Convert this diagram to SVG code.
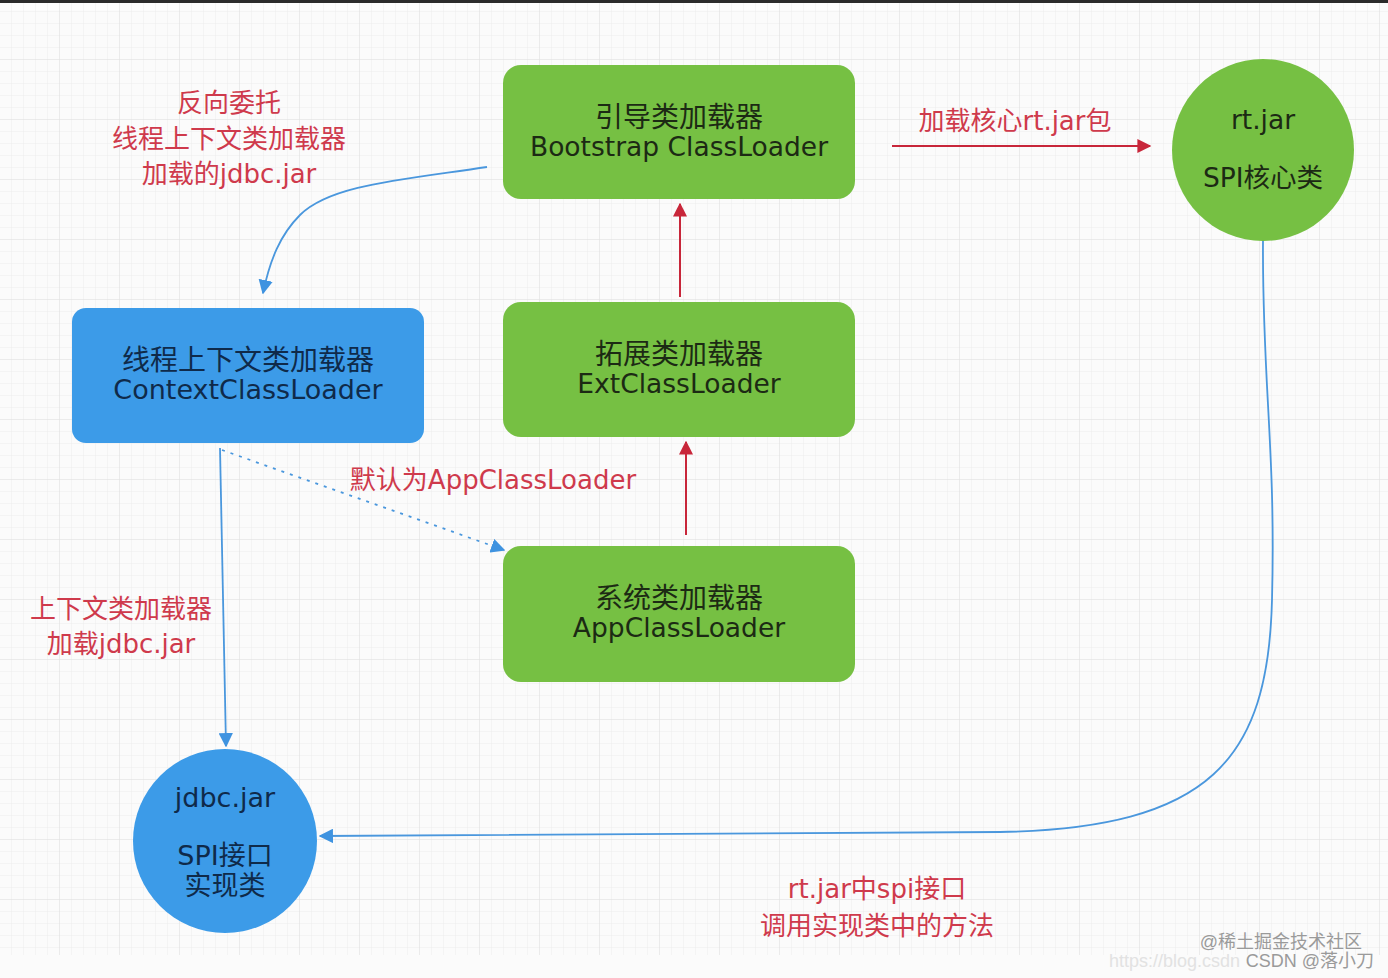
<svg xmlns="http://www.w3.org/2000/svg" width="1388" height="978" viewBox="0 0 1388 978">
<defs>
<pattern id="minor" width="12" height="12" patternUnits="userSpaceOnUse">
<path d="M12 0V12M0 12H12" fill="none" stroke="#ececec" stroke-width="1"/>
</pattern>
<pattern id="major" width="60" height="60" patternUnits="userSpaceOnUse">
<rect width="60" height="60" fill="url(#minor)"/>
<path d="M60 0V60M0 60H60" fill="none" stroke="#e2e2e2" stroke-width="1"/>
</pattern>
<marker id="red" viewBox="0 0 10 10" refX="9" refY="5" markerWidth="7" markerHeight="7" orient="auto" markerUnits="strokeWidth">
<path d="M0 0L10 5L0 10z" fill="#c8263a"/>
</marker>
<marker id="blue" viewBox="0 0 10 10" refX="9" refY="5" markerWidth="8" markerHeight="8" orient="auto" markerUnits="strokeWidth">
<path d="M0 0L10 5L0 10z" fill="#3f93e0"/>
</marker>
</defs>
<style>
.g{fill:#76c043}
.b{fill:#3c9be8}
.t{font-family:"DejaVu Sans","Noto Sans CJK SC",sans-serif;font-size:26.5px;fill:#1c2a14;text-anchor:middle}
.tb{font-family:"DejaVu Sans","Noto Sans CJK SC",sans-serif;font-size:27px;fill:#0f2a4a;text-anchor:middle}
.c{font-size:28px}
.r{font-family:"DejaVu Sans","Noto Sans CJK SC",sans-serif;font-size:26px;fill:#cf3a4c;text-anchor:middle}
.w{font-family:"Liberation Sans","Noto Sans CJK SC",sans-serif;font-size:18px;fill:#9a9a9a;text-anchor:end}
.rl{stroke:#c8263a;stroke-width:2;fill:none}
.bl{stroke:#4a97dd;stroke-width:1.8;fill:none}
</style>
<rect width="1388" height="978" fill="#fbfbfb"/>
<rect width="1388" height="955" fill="url(#major)"/>
<rect width="1388" height="3" fill="#2a2a2a"/>

<g id="connectors">
<path class="rl" d="M680 297V204" marker-end="url(#red)"/>
<path class="rl" d="M686 535V442" marker-end="url(#red)"/>
<path class="rl" d="M892 146H1150" marker-end="url(#red)"/>
<path class="bl" d="M487 167C400 180 330 185 300 215C280 235 270 260 263 293" marker-end="url(#blue)"/>
<path class="bl" d="M220 448L226 746" marker-end="url(#blue)"/>
<path class="bl" d="M222 450L504 550" stroke-dasharray="3 6" marker-end="url(#blue)"/>
<path class="bl" d="M1263 241C1262 380 1276 450 1272 600C1268 760 1210 828 1000 832L320 836" marker-end="url(#blue)"/>
</g>

<g id="bootstrap">
<rect class="g" x="503" y="65" width="352" height="134" rx="18"/>
<text class="t c" x="679" y="127">引导类加载器</text>
<text class="t" x="679" y="156">Bootstrap ClassLoader</text>
</g>
<g id="ext">
<rect class="g" x="503" y="302" width="352" height="135" rx="18"/>
<text class="t c" x="679" y="364">拓展类加载器</text>
<text class="t" x="679" y="393">ExtClassLoader</text>
</g>
<g id="app">
<rect class="g" x="503" y="546" width="352" height="136" rx="18"/>
<text class="t c" x="679" y="608">系统类加载器</text>
<text class="t" x="679" y="637">AppClassLoader</text>
</g>
<g id="context">
<rect class="b" x="72" y="308" width="352" height="135" rx="14"/>
<text class="tb c" x="248" y="370">线程上下文类加载器</text>
<text class="tb" x="248" y="399">ContextClassLoader</text>
</g>
<g id="rtjar">
<circle class="g" cx="1263" cy="150" r="91"/>
<text class="t" x="1263" y="129">rt.jar</text>
<text class="t" x="1263" y="187">SPI核心类</text>
</g>
<g id="jdbcjar">
<circle class="b" cx="225" cy="841" r="92"/>
<text class="tb" x="225" y="807">jdbc.jar</text>
<text class="tb" x="225" y="865">SPI接口</text>
<text class="tb" x="225" y="895">实现类</text>
</g>

<g id="labels">
<text class="r" x="229" y="112">反向委托</text>
<text class="r" x="229" y="148">线程上下文类加载器</text>
<text class="r" x="229" y="183">加载的jdbc.jar</text>
<text class="r" x="1015" y="130">加载核心rt.jar包</text>
<text class="r" x="493" y="489">默认为AppClassLoader</text>
<text class="r" x="121" y="618">上下文类加载器</text>
<text class="r" x="121" y="653">加载jdbc.jar</text>
<text class="r" x="877" y="898">rt.jar中spi接口</text>
<text class="r" x="877" y="935">调用实现类中的方法</text>
</g>

<g id="watermark">
<text class="w" x="1362" y="948">@稀土掘金技术社区</text>
<text class="w" x="1240" y="967" style="fill:#e2e2e2">https://blog.csdn</text>
<text class="w" x="1374" y="967">CSDN @落小刀</text>
</g>
</svg>
